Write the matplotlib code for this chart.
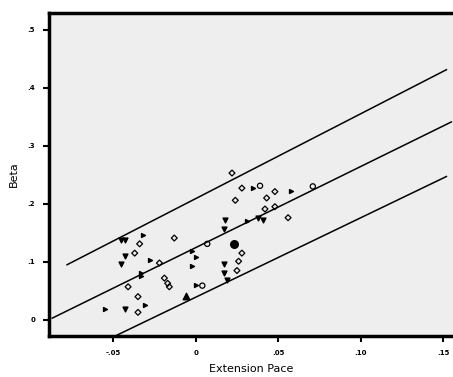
import matplotlib
matplotlib.use("Agg")
import matplotlib.pyplot as plt

# regression line and prediction limits (end points)
fit_x   = [-0.087, 0.155]
fit_y   = [0.003, 0.341]
upper_x = [-0.078, 0.152]
upper_y = [0.095, 0.431]
lower_x = [-0.049, 0.152]
lower_y = [-0.028, 0.247]

# open diamonds
dia_x = [0.022, 0.028, 0.048, 0.024, 0.043, 0.042, 0.048, 0.056, -0.013, -0.034,
         -0.037, -0.022, 0.028, 0.026, 0.025, -0.019, -0.017, -0.016, -0.041,
         -0.035, -0.035]
dia_y = [0.253, 0.227, 0.221, 0.206, 0.210, 0.191, 0.195, 0.176, 0.141, 0.131,
         0.115, 0.098, 0.115, 0.101, 0.085, 0.072, 0.063, 0.057, 0.057,
         0.040, 0.013]

# open circles
circ_x = [0.039, 0.071, 0.007, 0.004]
circ_y = [0.231, 0.230, 0.131, 0.059]

# filled circle
big_x = [0.023]
big_y = [0.131]

# filled down-triangles
tri_x = [0.018, 0.017, 0.038, 0.041, -0.043, -0.045, 0.017, 0.017, -0.043,
         0.019, -0.045, -0.043]
tri_y = [0.172, 0.157, 0.175, 0.172, 0.110, 0.096, 0.096, 0.081, 0.018,
         0.069, 0.138, 0.138]

# small filled right-triangles
rt_x = [0.058, -0.032, -0.028, -0.002, 0.000, -0.002, -0.033, -0.033, 0.000,
        -0.031, 0.035, 0.031, -0.055]
rt_y = [0.222, 0.147, 0.103, 0.118, 0.109, 0.092, 0.081, 0.075, 0.060,
        0.026, 0.227, 0.171, 0.018]

# filled up-triangle
up_x = [-0.006]
up_y = [0.041]

x_ticks = [-0.05, 0.0, 0.05, 0.10, 0.15]
x_labels = ["-.05", "0", ".05", ".10", ".15"]
y_ticks = [0.0, 0.1, 0.2, 0.3, 0.4, 0.5]
y_labels = ["0", ".1", ".2", ".3", ".4", ".5"]

fig = plt.figure(figsize=(4.53, 3.77), dpi=100)
ax = fig.add_axes([0.108, 0.109, 0.892, 0.857])
ax.set_facecolor("#eeeeee")

for xs, ys in [(fit_x, fit_y), (upper_x, upper_y), (lower_x, lower_y)]:
    ax.plot(xs, ys, color="black", linewidth=1.1)

ax.scatter(dia_x, dia_y, marker="D", s=9, facecolors="none",
           edgecolors="black", linewidths=0.9)
ax.scatter(circ_x, circ_y, marker="o", s=14, facecolors="none",
           edgecolors="black", linewidths=0.9)
ax.scatter(big_x, big_y, marker="o", s=30, color="black")
ax.scatter(tri_x, tri_y, marker="v", s=12, color="black")
ax.scatter(rt_x, rt_y, marker=">", s=8, color="black")
ax.scatter(up_x, up_y, marker="^", s=22, color="black")

ax.set_xlim(-0.089, 0.156)
ax.set_ylim(-0.0276, 0.529)
ax.set_xticks(x_ticks)
ax.set_xticklabels(x_labels, fontsize=5, fontweight="bold")
ax.set_yticks(y_ticks)
ax.set_yticklabels(y_labels, fontsize=5, fontweight="bold")
ax.tick_params(direction="out", length=4, width=1.5, pad=6)

for side in ["left", "top", "bottom"]:
    ax.spines[side].set_linewidth(2.5)
ax.spines["right"].set_visible(False)

ax.set_xlabel("Extension Pace", fontsize=8, labelpad=6)
ax.set_ylabel("Beta", fontsize=8, labelpad=6)

fig.savefig("out.png", dpi=100)
